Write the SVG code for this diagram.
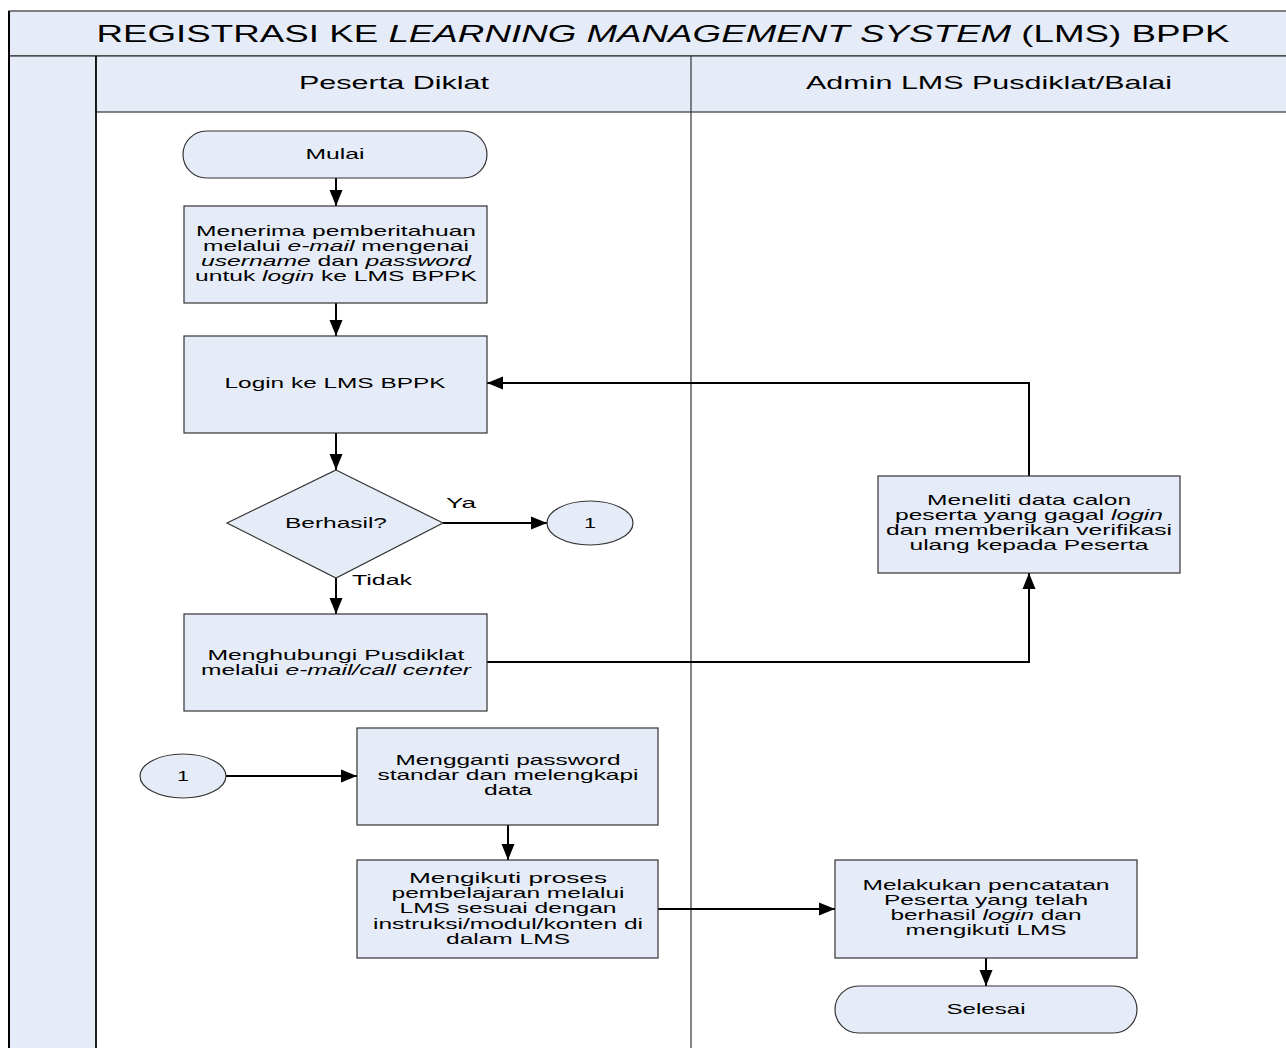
<svg xmlns="http://www.w3.org/2000/svg" width="1286" height="1048" viewBox="0 0 1286 1048">
<style>
.t{font-family:"Liberation Sans",Arial,sans-serif;font-size:15px;fill:#000;text-anchor:middle}
.hd{font-family:"Liberation Sans",Arial,sans-serif;font-size:19px;fill:#000;text-anchor:middle}
.ttl{font-family:"Liberation Sans",Arial,sans-serif;font-size:24px;fill:#000;text-anchor:middle}
.sh{fill:#E6ECF7;stroke:#333;stroke-width:1.2}
.ln{fill:none;stroke:#000;stroke-width:2}
.i{font-style:italic}
</style>
<defs>
<marker id="ah" markerUnits="userSpaceOnUse" markerWidth="18" markerHeight="16" refX="16" refY="7" orient="auto">
<path d="M0,0.5 L16,7 L0,13.5 z" fill="#000"/>
</marker>
</defs>
<g id="frame">
<rect x="9" y="11" width="1280" height="45" fill="#E6ECF7" stroke="#333" stroke-width="1.2"/>
<rect x="9" y="56" width="87" height="1000" fill="#E6ECF7" stroke="#333" stroke-width="1.2"/>
<rect x="96" y="56" width="1194" height="56" fill="#E6ECF7" stroke="#333" stroke-width="1.2"/>
<line x1="9" y1="11" x2="9" y2="1048" stroke="#000" stroke-width="2"/>
<line x1="96" y1="56" x2="96" y2="1048" stroke="#000" stroke-width="1.5"/>
<line x1="691" y1="56" x2="691" y2="1048" stroke="#333" stroke-width="1.2"/>
<text class="ttl" x="663" y="42" textLength="1133" lengthAdjust="spacingAndGlyphs">REGISTRASI KE <tspan class="i">LEARNING MANAGEMENT SYSTEM</tspan> (LMS) BPPK</text>
<text class="hd" x="394" y="89" textLength="190" lengthAdjust="spacingAndGlyphs">Peserta Diklat</text>
<text class="hd" x="989" y="89" textLength="366" lengthAdjust="spacingAndGlyphs">Admin LMS Pusdiklat/Balai</text>
</g>
<g id="connectors">
<line class="ln" x1="336" y1="178" x2="336" y2="206" marker-end="url(#ah)"/>
<line class="ln" x1="336" y1="303" x2="336" y2="336" marker-end="url(#ah)"/>
<line class="ln" x1="336" y1="433" x2="336" y2="470" marker-end="url(#ah)"/>
<line class="ln" x1="443" y1="523" x2="547" y2="523" marker-end="url(#ah)"/>
<line class="ln" x1="336" y1="578" x2="336" y2="614" marker-end="url(#ah)"/>
<polyline class="ln" points="487,662 1029,662 1029,573" marker-end="url(#ah)"/>
<polyline class="ln" points="1029,476 1029,383 487,383" marker-end="url(#ah)"/>
<line class="ln" x1="226" y1="776" x2="357" y2="776" marker-end="url(#ah)"/>
<line class="ln" x1="508" y1="825" x2="508" y2="860" marker-end="url(#ah)"/>
<line class="ln" x1="658" y1="909" x2="835" y2="909" marker-end="url(#ah)"/>
<line class="ln" x1="986" y1="958" x2="986" y2="986" marker-end="url(#ah)"/>
<text class="t" x="461" y="508" textLength="30" lengthAdjust="spacingAndGlyphs">Ya</text>
<text class="t" x="382" y="585" textLength="60" lengthAdjust="spacingAndGlyphs">Tidak</text>
</g>
<g id="mulai">
<rect class="sh" x="183" y="131" width="304" height="47" rx="23.5"/>
<text class="t" x="335" y="159" textLength="59" lengthAdjust="spacingAndGlyphs">Mulai</text>
</g>
<g id="menerima">
<rect class="sh" x="184" y="206" width="303" height="97"/>
<text class="t" x="336" y="236" textLength="280" lengthAdjust="spacingAndGlyphs">Menerima pemberitahuan</text>
<text class="t" x="336" y="251" textLength="266" lengthAdjust="spacingAndGlyphs">melalui <tspan class="i">e-mail</tspan> mengenai</text>
<text class="t" x="336" y="266" textLength="270" lengthAdjust="spacingAndGlyphs"><tspan class="i">username</tspan> dan <tspan class="i">password</tspan></text>
<text class="t" x="336" y="281" textLength="282" lengthAdjust="spacingAndGlyphs">untuk <tspan class="i">login</tspan> ke LMS BPPK</text>
</g>
<g id="login">
<rect class="sh" x="184" y="336" width="303" height="97"/>
<text class="t" x="335" y="388" textLength="221" lengthAdjust="spacingAndGlyphs">Login ke LMS BPPK</text>
</g>
<g id="berhasil">
<polygon class="sh" points="336,470 443,523 336,578 227,523"/>
<text class="t" x="336" y="528" textLength="102" lengthAdjust="spacingAndGlyphs">Berhasil?</text>
</g>
<g id="konektor1a">
<ellipse class="sh" cx="590" cy="523" rx="43" ry="22"/>
<text class="t" x="590" y="528" textLength="12" lengthAdjust="spacingAndGlyphs">1</text>
</g>
<g id="menghubungi">
<rect class="sh" x="184" y="614" width="303" height="97"/>
<text class="t" x="336" y="660" textLength="257" lengthAdjust="spacingAndGlyphs">Menghubungi Pusdiklat</text>
<text class="t" x="336" y="675" textLength="270" lengthAdjust="spacingAndGlyphs">melalui <tspan class="i">e-mail/call center</tspan></text>
</g>
<g id="meneliti">
<rect class="sh" x="878" y="476" width="302" height="97"/>
<text class="t" x="1029" y="505" textLength="204" lengthAdjust="spacingAndGlyphs">Meneliti data calon</text>
<text class="t" x="1029" y="520" textLength="268" lengthAdjust="spacingAndGlyphs">peserta yang gagal <tspan class="i">login</tspan></text>
<text class="t" x="1029" y="535" textLength="286" lengthAdjust="spacingAndGlyphs">dan memberikan verifikasi</text>
<text class="t" x="1029" y="550" textLength="239" lengthAdjust="spacingAndGlyphs">ulang kepada Peserta</text>
</g>
<g id="konektor1b">
<ellipse class="sh" cx="183" cy="776" rx="43" ry="22"/>
<text class="t" x="183" y="781" textLength="12" lengthAdjust="spacingAndGlyphs">1</text>
</g>
<g id="mengganti">
<rect class="sh" x="357" y="728" width="301" height="97"/>
<text class="t" x="508" y="765" textLength="225" lengthAdjust="spacingAndGlyphs">Mengganti password</text>
<text class="t" x="508" y="780" textLength="261" lengthAdjust="spacingAndGlyphs">standar dan melengkapi</text>
<text class="t" x="508" y="795" textLength="48" lengthAdjust="spacingAndGlyphs">data</text>
</g>
<g id="mengikuti">
<rect class="sh" x="357" y="860" width="301" height="98"/>
<text class="t" x="508" y="883" textLength="198" lengthAdjust="spacingAndGlyphs">Mengikuti proses</text>
<text class="t" x="508" y="898" textLength="233" lengthAdjust="spacingAndGlyphs">pembelajaran melalui</text>
<text class="t" x="508" y="913" textLength="217" lengthAdjust="spacingAndGlyphs">LMS sesuai dengan</text>
<text class="t" x="508" y="929" textLength="270" lengthAdjust="spacingAndGlyphs">instruksi/modul/konten di</text>
<text class="t" x="508" y="944" textLength="124" lengthAdjust="spacingAndGlyphs">dalam LMS</text>
</g>
<g id="melakukan">
<rect class="sh" x="835" y="860" width="302" height="98"/>
<text class="t" x="986" y="890" textLength="247" lengthAdjust="spacingAndGlyphs">Melakukan pencatatan</text>
<text class="t" x="986" y="905" textLength="204" lengthAdjust="spacingAndGlyphs">Peserta yang telah</text>
<text class="t" x="986" y="920" textLength="191" lengthAdjust="spacingAndGlyphs">berhasil <tspan class="i">login</tspan> dan</text>
<text class="t" x="986" y="935" textLength="161" lengthAdjust="spacingAndGlyphs">mengikuti LMS</text>
</g>
<g id="selesai">
<rect class="sh" x="835" y="986" width="302" height="47" rx="23.5"/>
<text class="t" x="986" y="1014" textLength="79" lengthAdjust="spacingAndGlyphs">Selesai</text>
</g>
</svg>
